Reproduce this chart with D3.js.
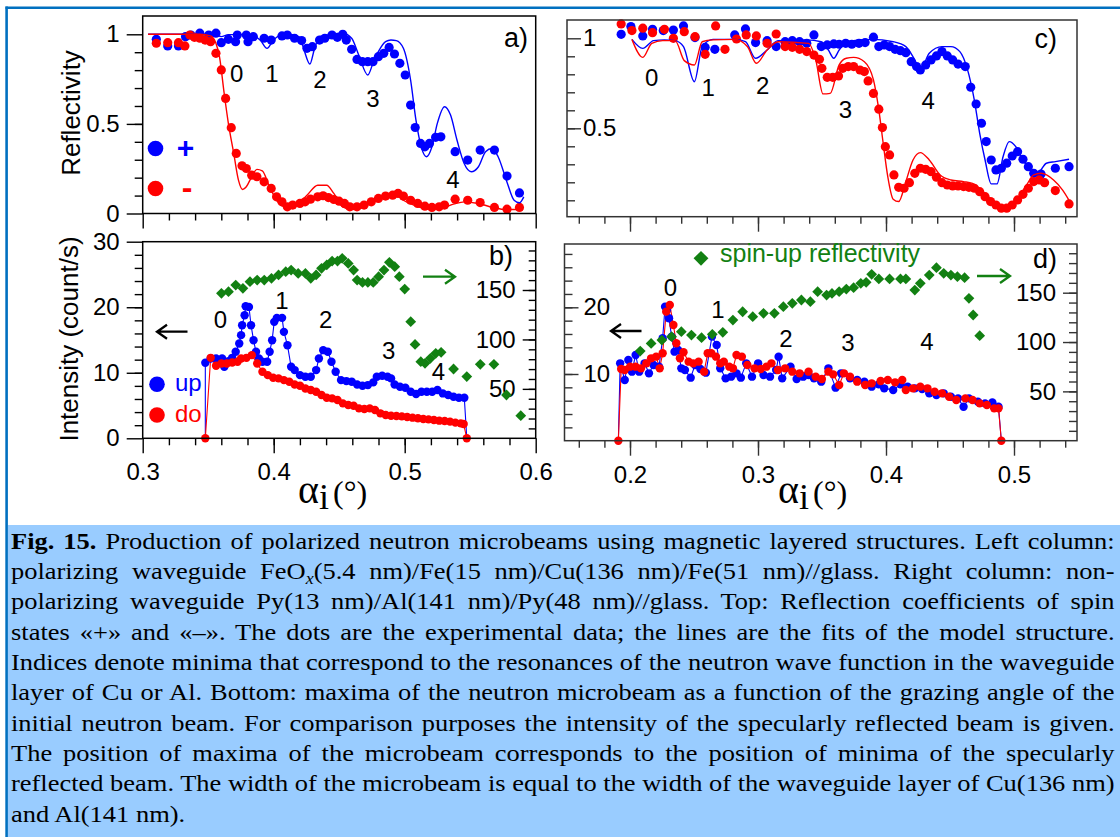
<!DOCTYPE html>
<html><head><meta charset="utf-8">
<script src="https://cdn.jsdelivr.net/npm/d3@7"></script>
<style>body{margin:0;background:#fff}svg{display:block}</style>
</head><body>
<svg id="c" width="1120" height="837"></svg>
<script>
// ---------------- DATA ----------------
// Panel a: polarizing waveguide reflectivity (spin + / -)
const aPlus = [[0.3104,0.972],[0.3191,0.935],[0.3273,0.935],[0.3327,0.987],[0.3368,0.996],[0.3436,1.006],[0.3504,0.996],[0.3559,1.006],[0.3600,0.953],[0.3654,0.972],[0.3709,0.959],[0.3722,0.996],[0.3791,0.996],[0.3804,0.959],[0.3845,0.987],[0.3927,0.978],[0.3981,0.968],[0.4063,0.991],[0.4104,0.996],[0.4159,0.978],[0.4213,0.965],[0.4254,0.922],[0.4295,0.931],[0.4350,0.968],[0.4390,0.978],[0.4445,0.996],[0.4486,0.983],[0.4527,1.000],[0.4554,0.968],[0.4595,0.916],[0.4636,0.860],[0.4677,0.847],[0.4718,0.847],[0.4758,0.847],[0.4799,0.875],[0.4840,0.894],[0.4881,0.927],[0.4922,0.890],[0.4963,0.838],[0.5004,0.773],[0.5045,0.605],[0.5080,0.480],[0.5121,0.391],[0.5154,0.372],[0.5189,0.391],[0.5236,0.425],[0.5276,0.428],[0.5385,0.345],[0.5481,0.298],[0.5576,0.354],[0.5685,0.354],[0.5781,0.209],[0.5876,0.115]];
const aMinus = [[0.3104,0.950],[0.3191,0.953],[0.3273,0.953],[0.3322,0.935],[0.3360,0.996],[0.3395,0.983],[0.3436,0.978],[0.3477,0.968],[0.3518,0.959],[0.3559,0.894],[0.3600,0.801],[0.3633,0.642],[0.3676,0.479],[0.3714,0.335],[0.3758,0.266],[0.3791,0.251],[0.3832,0.214],[0.3872,0.205],[0.3927,0.177],[0.3981,0.140],[0.4022,0.093],[0.4063,0.065],[0.4104,0.037],[0.4145,0.047],[0.4200,0.056],[0.4240,0.065],[0.4281,0.080],[0.4336,0.093],[0.4377,0.099],[0.4418,0.089],[0.4459,0.078],[0.4499,0.069],[0.4540,0.056],[0.4581,0.037],[0.4636,0.037],[0.4690,0.047],[0.4745,0.065],[0.4799,0.084],[0.4854,0.097],[0.4908,0.102],[0.4949,0.112],[0.4990,0.097],[0.5045,0.074],[0.5099,0.056],[0.5154,0.041],[0.5208,0.034],[0.5263,0.037],[0.5304,0.047],[0.5385,0.080],[0.5481,0.074],[0.5576,0.061],[0.5685,0.034],[0.5781,0.024],[0.5876,0.034]];
const aPlusFit = [[0.3041,1.000],[0.3545,1.000],[0.3600,0.987],[0.3654,0.998],[0.3818,0.998],[0.3900,0.965],[0.3949,0.922],[0.3995,0.965],[0.4063,0.998],[0.4145,0.998],[0.4200,0.983],[0.4232,0.912],[0.4276,0.834],[0.4309,0.912],[0.4350,0.987],[0.4445,1.000],[0.4527,1.006],[0.4595,0.978],[0.4649,0.885],[0.4718,0.773],[0.4758,0.838],[0.4799,0.903],[0.4854,0.959],[0.4895,0.968],[0.4936,0.965],[0.4990,0.922],[0.5045,0.745],[0.5086,0.521],[0.5126,0.372],[0.5167,0.317],[0.5208,0.372],[0.5249,0.503],[0.5304,0.596],[0.5350,0.549],[0.5399,0.410],[0.5454,0.279],[0.5508,0.233],[0.5563,0.261],[0.5617,0.345],[0.5666,0.363],[0.5713,0.317],[0.5781,0.175],[0.5835,0.074],[0.5876,0.060],[0.5909,0.093]];
const aMinusFit = [[0.3041,1.000],[0.3436,1.000],[0.3518,0.991],[0.3559,0.950],[0.3586,0.875],[0.3622,0.670],[0.3654,0.503],[0.3695,0.335],[0.3731,0.186],[0.3763,0.134],[0.3791,0.149],[0.3832,0.205],[0.3872,0.246],[0.3913,0.238],[0.3968,0.149],[0.4022,0.074],[0.4091,0.037],[0.4172,0.047],[0.4254,0.102],[0.4336,0.158],[0.4404,0.158],[0.4459,0.112],[0.4527,0.037],[0.4595,0.022],[0.4690,0.037],[0.4799,0.084],[0.4881,0.112],[0.4936,0.106],[0.4990,0.074],[0.5072,0.047],[0.5154,0.028],[0.5263,0.028],[0.5372,0.052],[0.5454,0.065],[0.5563,0.056],[0.5672,0.034],[0.5781,0.022],[0.5904,0.022]];

// Panel b: polarizing waveguide microbeam intensity (left axis) and spin-up reflectivity (right axis)
const bUp = [[0.3478,0],[0.3478,11.52],[0.3519,12.18],[0.3560,12.18],[0.3606,12.18],[0.3623,10.91],[0.3655,11.78],[0.3683,12.28],[0.3710,13.20],[0.3737,14.47],[0.3751,15.74],[0.3759,17.26],[0.3778,18.78],[0.3786,20.15],[0.3811,20.05],[0.3827,17.26],[0.3846,14.97],[0.3865,13.20],[0.3887,12.18],[0.3914,11.68],[0.3950,11.68],[0.3969,13.20],[0.3988,14.97],[0.4004,17.77],[0.4024,18.38],[0.4064,18.38],[0.4078,16.24],[0.4105,14.21],[0.4133,10.91],[0.4160,10.41],[0.4201,9.64],[0.4242,9.39],[0.4283,9.39],[0.4324,10.41],[0.4345,12.18],[0.4378,13.45],[0.4413,13.20],[0.4441,11.68],[0.4473,10.15],[0.4514,8.88],[0.4555,8.73],[0.4596,8.63],[0.4637,8.22],[0.4678,8.02],[0.4719,8.12],[0.4760,8.53],[0.4787,9.39],[0.4828,9.54],[0.4869,9.39],[0.4896,9.14],[0.4923,8.22],[0.4964,7.87],[0.5005,7.72],[0.5046,7.11],[0.5087,6.75],[0.5128,7.11],[0.5169,7.11],[0.5210,7.11],[0.5250,7.36],[0.5291,6.85],[0.5332,6.60],[0.5373,6.35],[0.5414,6.19],[0.5455,6.19],[0.5474,0]];
const bDo = [[0.3478,0],[0.3519,12.28],[0.3560,11.07],[0.3601,11.42],[0.3642,11.42],[0.3683,11.57],[0.3724,11.68],[0.3751,12.18],[0.3792,12.28],[0.3833,12.69],[0.3874,11.42],[0.3914,10.15],[0.3955,9.64],[0.3996,9.24],[0.4037,9.14],[0.4078,8.88],[0.4119,8.63],[0.4160,8.22],[0.4201,8.02],[0.4242,7.61],[0.4283,7.36],[0.4324,7.11],[0.4365,6.60],[0.4405,6.19],[0.4446,6.09],[0.4487,5.84],[0.4528,5.33],[0.4569,5.08],[0.4610,4.97],[0.4651,4.57],[0.4692,4.47],[0.4733,4.57],[0.4773,4.31],[0.4814,3.81],[0.4855,3.55],[0.4896,3.45],[0.4937,3.40],[0.4978,3.35],[0.5019,3.25],[0.5060,3.15],[0.5101,3.05],[0.5142,2.94],[0.5182,2.89],[0.5223,2.79],[0.5264,2.69],[0.5305,2.64],[0.5346,2.54],[0.5387,2.39],[0.5428,2.28],[0.5450,2.18],[0.5474,0]];
const bRefl = [[0.3601,146.6],[0.3655,148.3],[0.3710,155.0],[0.3765,151.7],[0.3819,158.4],[0.3874,160.1],[0.3928,160.1],[0.3983,161.8],[0.4037,165.2],[0.4092,168.5],[0.4133,170.2],[0.4187,166.8],[0.4242,166.8],[0.4283,161.8],[0.4324,165.2],[0.4365,171.9],[0.4405,175.3],[0.4446,179.3],[0.4487,179.3],[0.4523,182.0],[0.4569,176.9],[0.4610,170.2],[0.4637,160.1],[0.4678,157.7],[0.4719,157.7],[0.4760,157.7],[0.4801,163.5],[0.4842,170.2],[0.4883,178.0],[0.4924,173.6],[0.4959,163.5],[0.5000,151.0],[0.5046,118.0],[0.5079,95.0],[0.5123,77.5],[0.5155,75.8],[0.5196,80.9],[0.5237,85.9],[0.5278,87.0],[0.5373,70.1],[0.5474,62.4],[0.5577,74.8],[0.5681,74.8],[0.5777,43.8],[0.5886,22.9]];

// Panel c: non-polarizing waveguide reflectivity
const cPlus = [[0.1931,1.022],[0.2007,1.065],[0.2100,1.013],[0.2176,1.050],[0.2260,1.043],[0.2339,1.046],[0.2418,1.069],[0.2508,1.004],[0.2587,0.950],[0.2663,0.939],[0.2818,1.019],[0.2902,1.052],[0.2981,0.976],[0.3071,0.987],[0.3142,0.954],[0.3212,0.981],[0.3268,0.987],[0.3325,0.981],[0.3381,0.972],[0.3437,1.019],[0.3494,0.954],[0.3541,0.963],[0.3592,0.969],[0.3634,0.967],[0.3685,0.972],[0.3733,0.967],[0.3789,0.972],[0.3837,0.976],[0.3902,1.006],[0.3944,0.954],[0.3986,0.963],[0.4028,0.954],[0.4071,0.939],[0.4113,0.931],[0.4155,0.920],[0.4197,0.870],[0.4239,0.843],[0.4268,0.824],[0.4310,0.852],[0.4352,0.880],[0.4394,0.902],[0.4437,0.926],[0.4479,0.902],[0.4521,0.880],[0.4563,0.857],[0.4619,0.843],[0.4662,0.728],[0.4704,0.635],[0.4746,0.528],[0.4783,0.426],[0.4822,0.324],[0.4859,0.269],[0.4901,0.278],[0.4943,0.306],[0.4986,0.346],[0.5028,0.370],[0.5070,0.328],[0.5112,0.287],[0.5154,0.250],[0.5211,0.246],[0.5323,0.278],[0.5430,0.287]];
const cMinus = [[0.1931,1.080],[0.2015,1.043],[0.2100,1.056],[0.2176,1.031],[0.2269,1.050],[0.2339,1.000],[0.2424,1.037],[0.2508,1.009],[0.2587,0.911],[0.2669,1.069],[0.2742,0.939],[0.2832,0.996],[0.2908,1.019],[0.2987,1.013],[0.3071,0.972],[0.3142,1.024],[0.3212,0.954],[0.3268,0.950],[0.3325,0.939],[0.3381,0.926],[0.3437,0.907],[0.3480,0.883],[0.3499,0.833],[0.3541,0.783],[0.3584,0.783],[0.3629,0.791],[0.3662,0.833],[0.3705,0.843],[0.3747,0.843],[0.3797,0.824],[0.3831,0.815],[0.3860,0.763],[0.3902,0.694],[0.3944,0.606],[0.3972,0.504],[0.3995,0.398],[0.4028,0.352],[0.4062,0.241],[0.4099,0.172],[0.4141,0.167],[0.4183,0.198],[0.4225,0.250],[0.4268,0.278],[0.4310,0.272],[0.4352,0.259],[0.4394,0.228],[0.4437,0.198],[0.4479,0.185],[0.4521,0.180],[0.4563,0.180],[0.4606,0.176],[0.4648,0.172],[0.4690,0.167],[0.4732,0.148],[0.4774,0.120],[0.4817,0.093],[0.4859,0.074],[0.4901,0.056],[0.4943,0.056],[0.4986,0.074],[0.5028,0.102],[0.5070,0.133],[0.5112,0.167],[0.5154,0.204],[0.5197,0.213],[0.5239,0.198],[0.5323,0.154],[0.5430,0.080]];
const cPlusFit = [[0.2015,0.994],[0.2100,0.944],[0.2184,0.987],[0.2269,0.991],[0.2353,0.987],[0.2418,0.954],[0.2503,0.759],[0.2564,0.954],[0.2649,0.994],[0.2818,0.994],[0.2902,0.981],[0.2981,0.889],[0.3071,0.935],[0.3156,0.987],[0.3381,0.991],[0.3494,0.981],[0.3550,0.935],[0.3592,0.889],[0.3634,0.935],[0.3690,0.981],[0.3888,0.994],[0.4056,0.981],[0.4155,0.954],[0.4225,0.880],[0.4268,0.824],[0.4338,0.917],[0.4437,0.954],[0.4507,0.954],[0.4577,0.926],[0.4634,0.833],[0.4690,0.657],[0.4732,0.472],[0.4774,0.324],[0.4822,0.191],[0.4867,0.191],[0.4915,0.343],[0.4963,0.426],[0.5014,0.398],[0.5070,0.324],[0.5127,0.269],[0.5183,0.250],[0.5253,0.306],[0.5323,0.315],[0.5430,0.328]];
const cMinusFit = [[0.2015,0.994],[0.2100,0.894],[0.2170,0.972],[0.2255,0.987],[0.2353,0.987],[0.2424,0.876],[0.2503,0.852],[0.2564,0.981],[0.2649,0.991],[0.2818,0.994],[0.2917,0.954],[0.2987,0.861],[0.3071,0.935],[0.3156,0.981],[0.3395,0.972],[0.3451,0.880],[0.3508,0.691],[0.3564,0.694],[0.3634,0.852],[0.3690,0.889],[0.3747,0.894],[0.3831,0.870],[0.3902,0.769],[0.3944,0.602],[0.3978,0.417],[0.4014,0.231],[0.4056,0.106],[0.4099,0.093],[0.4155,0.204],[0.4211,0.324],[0.4268,0.365],[0.4338,0.324],[0.4423,0.241],[0.4507,0.213],[0.4606,0.204],[0.4676,0.194],[0.4746,0.157],[0.4817,0.106],[0.4901,0.046],[0.4963,0.056],[0.5028,0.111],[0.5098,0.185],[0.5154,0.241],[0.5211,0.250],[0.5309,0.213],[0.5380,0.157],[0.5436,0.093]];

// Panel d: non-polarizing waveguide microbeam intensity and spin-up reflectivity
const dUp = [[0.1909,0],[0.1923,11.60],[0.1959,9.10],[0.1987,12.10],[0.2015,10.35],[0.2044,12.85],[0.2072,10.35],[0.2114,11.60],[0.2148,10.10],[0.2184,11.35],[0.2227,11.10],[0.2255,15.35],[0.2274,20.10],[0.2289,19.60],[0.2305,18.35],[0.2325,15.60],[0.2348,13.35],[0.2376,13.60],[0.2401,10.85],[0.2429,10.60],[0.2474,9.45],[0.2508,11.35],[0.2550,10.75],[0.2593,10.20],[0.2640,15.60],[0.2677,14.35],[0.2705,10.85],[0.2747,9.35],[0.2790,9.60],[0.2832,10.10],[0.2866,9.45],[0.2908,11.60],[0.2953,9.60],[0.3001,11.60],[0.3043,9.85],[0.3094,9.60],[0.3142,10.60],[0.3161,12.60],[0.3189,9.35],[0.3254,11.10],[0.3302,9.25],[0.3353,9.60],[0.3395,9.85],[0.3437,9.35],[0.3494,8.85],[0.3550,10.85],[0.3606,7.95],[0.3649,10.10],[0.3719,9.35],[0.3775,9.10],[0.3831,8.85],[0.3888,8.10],[0.3944,8.45],[0.3986,7.85],[0.4056,7.60],[0.4113,8.45],[0.4169,8.10],[0.4225,7.85],[0.4282,7.75],[0.4338,7.10],[0.4394,6.85],[0.4451,7.10],[0.4507,6.60],[0.4563,6.35],[0.4606,5.10],[0.4648,6.35],[0.4718,5.85],[0.4774,5.60],[0.4831,5.75],[0.4879,5.10],[0.4901,0]];
const dDo = [[0.1909,0],[0.1931,10.75],[0.1959,10.60],[0.2001,11.10],[0.2044,11.10],[0.2086,10.85],[0.2128,11.60],[0.2165,12.35],[0.2204,12.60],[0.2232,10.85],[0.2255,13.10],[0.2283,19.35],[0.2311,20.35],[0.2339,17.35],[0.2362,14.60],[0.2390,12.35],[0.2418,13.25],[0.2458,11.85],[0.2494,11.60],[0.2536,11.85],[0.2579,10.35],[0.2607,13.10],[0.2635,13.10],[0.2672,12.60],[0.2705,11.60],[0.2733,11.85],[0.2776,11.10],[0.2804,10.85],[0.2832,12.85],[0.2874,12.60],[0.2917,11.35],[0.2973,10.85],[0.3021,10.75],[0.3066,11.10],[0.3105,11.60],[0.3156,10.60],[0.3212,10.85],[0.3268,10.35],[0.3325,10.10],[0.3395,10.35],[0.3451,9.60],[0.3499,9.25],[0.3550,10.35],[0.3587,9.95],[0.3634,8.35],[0.3671,10.10],[0.3719,9.60],[0.3775,8.85],[0.3837,8.35],[0.3888,8.60],[0.3958,8.95],[0.4014,9.10],[0.4071,8.75],[0.4127,9.10],[0.4155,7.60],[0.4211,7.85],[0.4268,8.10],[0.4324,7.85],[0.4380,7.35],[0.4437,7.10],[0.4493,6.60],[0.4549,6.10],[0.4620,6.35],[0.4676,6.10],[0.4732,5.60],[0.4788,5.35],[0.4845,4.85],[0.4879,4.85],[0.4901,0]];
const dRefl = [[0.2080,90.9],[0.2165,98.6],[0.2249,102.0],[0.2325,105.4],[0.2401,110.5],[0.2480,107.1],[0.2559,104.4],[0.2643,107.8],[0.2725,109.8],[0.2804,122.3],[0.2880,130.7],[0.2959,125.7],[0.3043,129.1],[0.3128,129.1],[0.3198,135.8],[0.3268,139.2],[0.3339,142.6],[0.3409,140.9],[0.3466,151.0],[0.3536,147.6],[0.3578,149.3],[0.3634,151.0],[0.3690,153.7],[0.3747,155.1],[0.3803,159.5],[0.3845,160.5],[0.3888,168.6],[0.3944,163.9],[0.4028,163.9],[0.4113,163.9],[0.4155,163.9],[0.4225,152.7],[0.4268,159.5],[0.4338,167.9],[0.4394,175.3],[0.4451,169.6],[0.4507,167.9],[0.4558,166.2],[0.4614,165.2],[0.4648,144.3],[0.4681,127.4],[0.4732,106.4]];

// Tick labels
const xTicksAB = [0.3, 0.4, 0.5, 0.6];
const xLabelsAB = ["0.3", "0.4", "0.5", "0.6"];
const xTicksCD = [0.2, 0.3, 0.4, 0.5];
const xLabelsCD = ["0.2", "0.3", "0.4", "0.5"];
const yTicksA = [0, 0.5, 1];
const yLabelsA = ["0", "0.5", "1"];
const yTicksC = [0.5, 1];
const yLabelsC = ["0.5", "1"];
const yTicksBLeft = [0, 10, 20, 30];
const yLabelsBLeft = ["0", "10", "20", "30"];
const yTicksDLeft = [10, 20];
const yLabelsDLeft = ["10", "20"];
const yTicksRight = [50, 100, 150];
const yLabelsRight = ["50", "100", "150"];
const resonanceLabels = ["0", "1", "2", "3", "4"];

// Caption
const capLines = [
 [["Fig. 15.","b"],[" Production of polarized neutron microbeams using magnetic layered structures. Left column:",""]],
 [["polarizing waveguide FeO",""],["x","sub"],["(5.4 nm)/Fe(15 nm)/Cu(136 nm)/Fe(51 nm)//glass. Right column: non-",""]],
 [["polarizing waveguide Py(13 nm)/Al(141 nm)/Py(48 nm)//glass. Top: Reflection coefficients of spin",""]],
 [["states «+» and «–». The dots are the experimental data; the lines are the fits of the model structure.",""]],
 [["Indices denote minima that correspond to the resonances of the neutron wave function in the waveguide",""]],
 [["layer of Cu or Al. Bottom: maxima of the neutron microbeam as a function of the grazing angle of the",""]],
 [["initial neutron beam. For comparison purposes the intensity of the specularly reflected beam is given.",""]],
 [["The position of maxima of the microbeam corresponds to the position of minima of the specularly",""]],
 [["reflected beam. The width of the microbeam is equal to the width of the waveguide layer of Cu(136 nm)",""]],
 [["and Al(141 nm).",""]]
];

// ---------------- DRAWING ----------------
const SANS = "'Liberation Sans', Arial, Helvetica, sans-serif";
const SERIF = "'Liberation Serif', 'Times New Roman', serif";
const BLUE = "#0000ff", RED = "#ff0000", GREEN = "#128012";
const svg = d3.select("#c");
svg.append("rect").attr("width",1120).attr("height",837).attr("fill","#fff");

// caption background and border
svg.append("rect").attr("x",8).attr("y",525).attr("width",1112).attr("height",312).attr("fill","#99ccff");
svg.append("line").attr("x1",5.5).attr("x2",1120).attr("y1",7.8).attr("y2",7.8).attr("stroke","#0070c0").attr("stroke-width",2.6);
svg.append("line").attr("x1",6.6).attr("x2",6.6).attr("y1",6.5).attr("y2",837).attr("stroke","#0070c0").attr("stroke-width",2.6);

// scales
const xAB = d3.scaleLinear().domain([0.3,0.6]).range([142.7,535.7]);
const yA = d3.scaleLinear().domain([0,1]).range([213.5,34.3]);
const yBl = d3.scaleLinear().domain([0,30]).range([438.3,241.7]);
const yBr = d3.scaleLinear().domain([0,150]).range([438.3,290]);
const xCD = d3.scaleLinear().domain([0.2,0.5]).range([630,1014]);
const yC = d3.scaleLinear().domain([0,1]).range([218.3,38.3]);
const yDl = d3.scaleLinear().domain([0,20]).range([440.7,307.3]);
const yDr = d3.scaleLinear().domain([0,150]).range([440.7,292.7]);

function frame(x0,y0,x1,y1,col){
  svg.append("rect").attr("x",x0).attr("y",y0).attr("width",x1-x0).attr("height",y1-y0)
    .attr("fill","none").attr("stroke",col).attr("stroke-width",1.5);
}
function axis(orient, scale, vals, size, pad, labels, tx, ty, col){
  const a = d3[orient](scale).tickValues(vals).tickSize(size).tickPadding(pad)
    .tickFormat((d,i)=> labels ? labels[i] : "");
  const g = svg.append("g").attr("transform",`translate(${tx},${ty})`).call(a);
  g.select(".domain").remove();
  g.attr("font-size",24).attr("font-family",SANS);
  g.selectAll(".tick line").attr("stroke",col).attr("stroke-width",1.4);
  g.selectAll(".tick text").attr("fill","#000");
  return g;
}
function dots(data,x,y,r,col){
  svg.append("g").selectAll("circle").data(data).join("circle")
    .attr("cx",d=>x(d[0])).attr("cy",d=>y(d[1])).attr("r",r).attr("fill",col);
}
function line(data,x,y,col,w,curve){
  svg.append("path").datum(data)
    .attr("d",d3.line().x(d=>x(d[0])).y(d=>y(d[1])).curve(curve||d3.curveLinear))
    .attr("fill","none").attr("stroke",col).attr("stroke-width",w).attr("stroke-linejoin","round");
}
function diamonds(data,x,y,size,col){
  svg.append("g").selectAll("path").data(data).join("path")
    .attr("d",d3.symbol(d3.symbolSquare,size))
    .attr("transform",d=>`translate(${x(d[0])},${y(d[1])}) rotate(45)`).attr("fill",col);
}
function label(txt,x,y,size,col,anchor,extra){
  const t = svg.append("text").attr("x",x).attr("y",y).attr("font-family",SANS).attr("font-size",size)
    .attr("fill",col||"#000").attr("text-anchor",anchor||"middle").text(txt);
  if(extra) extra(t);
  return t;
}
function arrow(x1,x2,y,dir,col){
  const tip = dir<0 ? x1 : x2, back = dir<0 ? 10 : -10;
  svg.append("path").attr("d",`M${x1},${y}H${x2}M${tip+back},${y-7}L${tip},${y}L${tip+back},${y+7}`)
    .attr("fill","none").attr("stroke",col).attr("stroke-width",2.3);
}
function numbers(xs,ys,xScale,yScale){
  resonanceLabels.forEach((t,i)=>label(t,xScale(xs[i]),yScale(ys[i]),24,"#000","middle",
    e=>e.attr("dominant-baseline","central")));
}
const minorRange = (a,b,s)=>d3.range(Math.round((b-a)/s)+1).map(i=>a+i*s);

// ---- Panel a ----
axis("axisBottom",xAB,minorRange(0.32,0.58,0.02),7,0,null,0,213.5,"#000");
axis("axisBottom",xAB,xTicksAB,15,0,null,0,213.5,"#000");
axis("axisLeft",yA,minorRange(0.1,0.9,0.1),8,0,null,142.7,0,"#000");
axis("axisLeft",yA,yTicksA,16,7,yLabelsA,142.7,0,"#000");
dots(aPlus,xAB,yA,4.6,BLUE);
dots(aMinus,xAB,yA,4.6,RED);
line(aPlusFit,xAB,yA,BLUE,1.4,d3.curveMonotoneX);
line(aMinusFit,xAB,yA,RED,1.4,d3.curveMonotoneX);
frame(142.7,16,535.7,213.5,"#000");
numbers([0.3718,0.3987,0.4353,0.4758,0.5369],[0.784,0.784,0.745,0.639,0.187],xAB,yA);
label("a)",528,47,27,"#000","end");
svg.append("circle").attr("cx",155.5).attr("cy",148.5).attr("r",7.8).attr("fill",BLUE);
svg.append("circle").attr("cx",155.5).attr("cy",188.5).attr("r",7.8).attr("fill",RED);
label("+",185.5,157.5,30,BLUE,"middle",e=>e.attr("font-weight","bold"));
label("-",187,198,32,RED,"middle",e=>e.attr("font-weight","bold"));
label("Reflectivity",0,0,26,"#000","middle",e=>e.attr("transform","translate(80,113) rotate(-90)"));

// ---- Panel b ----
axis("axisBottom",xAB,minorRange(0.32,0.58,0.02),7,0,null,0,438.3,"#000");
axis("axisBottom",xAB,xTicksAB,15,10,xLabelsAB,0,438.3,"#000");
axis("axisLeft",yBl,minorRange(2,28,2),8,0,null,142.7,0,"#000");
axis("axisLeft",yBl,yTicksBLeft,16,7,yLabelsBLeft,142.7,0,"#000");
axis("axisLeft",yBr,minorRange(10,190,10),7,0,null,535.7,0,"#000");
axis("axisLeft",yBr,yTicksRight,13,7,yLabelsRight,535.7,0,"#000");
line(bUp,xAB,yBl,BLUE,1.1);
line(bDo,xAB,yBl,RED,1.1);
dots(bUp.slice(1,-1),xAB,yBl,4.2,BLUE);
dots(bDo,xAB,yBl,4.2,RED);
diamonds(bRefl,xAB,yBr,58,GREEN);
frame(142.7,241.7,535.7,438.3,"#000");
numbers([0.3593,0.4062,0.4397,0.4877,0.5257],[18.13,21.06,18.16,13.37,10.16],xAB,yBl);
label("b)",513,265,27,"#000","end");
arrow(157,187.5,331.7,-1,"#000");
arrow(423,455,276.7,1,GREEN);
svg.append("circle").attr("cx",157).attr("cy",384.3).attr("r",7.8).attr("fill",BLUE);
svg.append("circle").attr("cx",157).attr("cy",415).attr("r",7.8).attr("fill",RED);
label("up",175,391,24,BLUE,"start");
label("do",175,422,24,RED,"start");
label("Intensity (count/s)",0,0,26,"#000","middle",e=>e.attr("transform","translate(78,339) rotate(-90)"));
function alphaTitle(x0){
  const t = svg.append("text").attr("x",x0).attr("y",503).attr("font-family",SERIF).attr("fill","#000");
  t.append("tspan").attr("font-size",40).text("α");
  t.append("tspan").attr("font-size",36).attr("dy",6).text("i");
  t.append("tspan").attr("font-size",32).attr("dy",-6).attr("dx",4).text("(°)");
}
alphaTitle(298);

// ---- Panel c ----
const CD = "#333";
axis("axisBottom",xCD,minorRange(0.16,0.54,0.02),7,0,null,0,216.7,CD);
axis("axisBottom",xCD,xTicksCD,15,0,null,0,216.7,CD);
axis("axisRight",yC,minorRange(0.1,0.9,0.1),8,0,null,567,0,CD);
axis("axisRight",yC,yTicksC,14,2,yLabelsC,567,0,CD);
dots(cPlus,xCD,yC,4.6,BLUE);
dots(cMinus,xCD,yC,4.6,RED);
line(cPlusFit,xCD,yC,BLUE,1.4,d3.curveMonotoneX);
line(cMinusFit,xCD,yC,RED,1.4,d3.curveMonotoneX);
frame(567,20,1077,216.7,CD);
numbers([0.2169,0.2611,0.3036,0.3684,0.4330],[0.784,0.727,0.737,0.602,0.656],xCD,yC);
label("c)",1057,48,27,"#000","end");

// ---- Panel d ----
axis("axisBottom",xCD,minorRange(0.16,0.54,0.02),7,0,null,0,440.7,CD);
axis("axisBottom",xCD,xTicksCD,15,10,xLabelsCD,0,440.7,CD);
axis("axisRight",yDl,minorRange(2,28,2),8,0,null,564.5,0,CD);
axis("axisRight",yDl,yTicksDLeft,14,5,yLabelsDLeft,564.5,0,CD);
axis("axisLeft",yDr,minorRange(10,190,10),8,0,null,1077,0,CD);
axis("axisLeft",yDr,yTicksRight,14,7,yLabelsRight,1077,0,CD);
line(dUp,xCD,yDl,BLUE,1.1);
line(dDo,xCD,yDl,RED,1.1);
dots(dUp.slice(1,-1),xCD,yDl,4.2,BLUE);
dots(dDo,xCD,yDl,4.2,RED);
diamonds(dRefl,xCD,yDr,58,GREEN);
frame(564.5,244,1077,440.7,CD);
numbers([0.2315,0.2687,0.3219,0.3702,0.4320],[22.92,19.64,15.35,14.65,14.9],xCD,yDl);
label("d)",1057,268,27,"#000","end");
arrow(611,641.5,331,-1,"#000");
arrow(977,1010,276,1,GREEN);
svg.append("path").attr("d",d3.symbol(d3.symbolSquare,110)).attr("transform","translate(701,258.3) rotate(45)").attr("fill",GREEN);
label("spin-up reflectivity",720,261.5,25,GREEN,"start");
alphaTitle(778);

// ---- Caption ----
const capG = svg.append("g");
const capTexts = capLines.map(segs=>{
  const t = capG.append("text").attr("font-family",SERIF).attr("font-size",23.5).attr("fill","#000")
    .attr("xml:space","preserve");
  let prevSub=false;
  segs.forEach(([s,st])=>{
    const ts = t.append("tspan").text(s);
    if(st==="b") ts.attr("font-weight","bold");
    if(st==="sub"){ ts.attr("font-style","italic").attr("font-size",16).attr("dy",5); }
    else if(prevSub) ts.attr("dy",-5);
    prevSub = st==="sub";
  });
  return t;
});
const TARGET = 1104;
const widths = capTexts.map(t=>t.node().getComputedTextLength());
let s = d3.min(widths.slice(0,9).map(w=>TARGET/w));
s = Math.max(0.8, Math.min(1.2, s));
capTexts.forEach((t,i)=>{
  const y = 548.5 + 30.37*i;
  t.attr("transform",`translate(11,${y}) scale(${s},1)`);
  if(i<9){
    const full = capLines[i].map(d=>d[0]).join("");
    const nSp = (full.match(/ /g)||[]).length;
    const ws = (TARGET/s - widths[i])/nSp;
    t.attr("word-spacing",ws);
  }
});
</script>
</body></html>
